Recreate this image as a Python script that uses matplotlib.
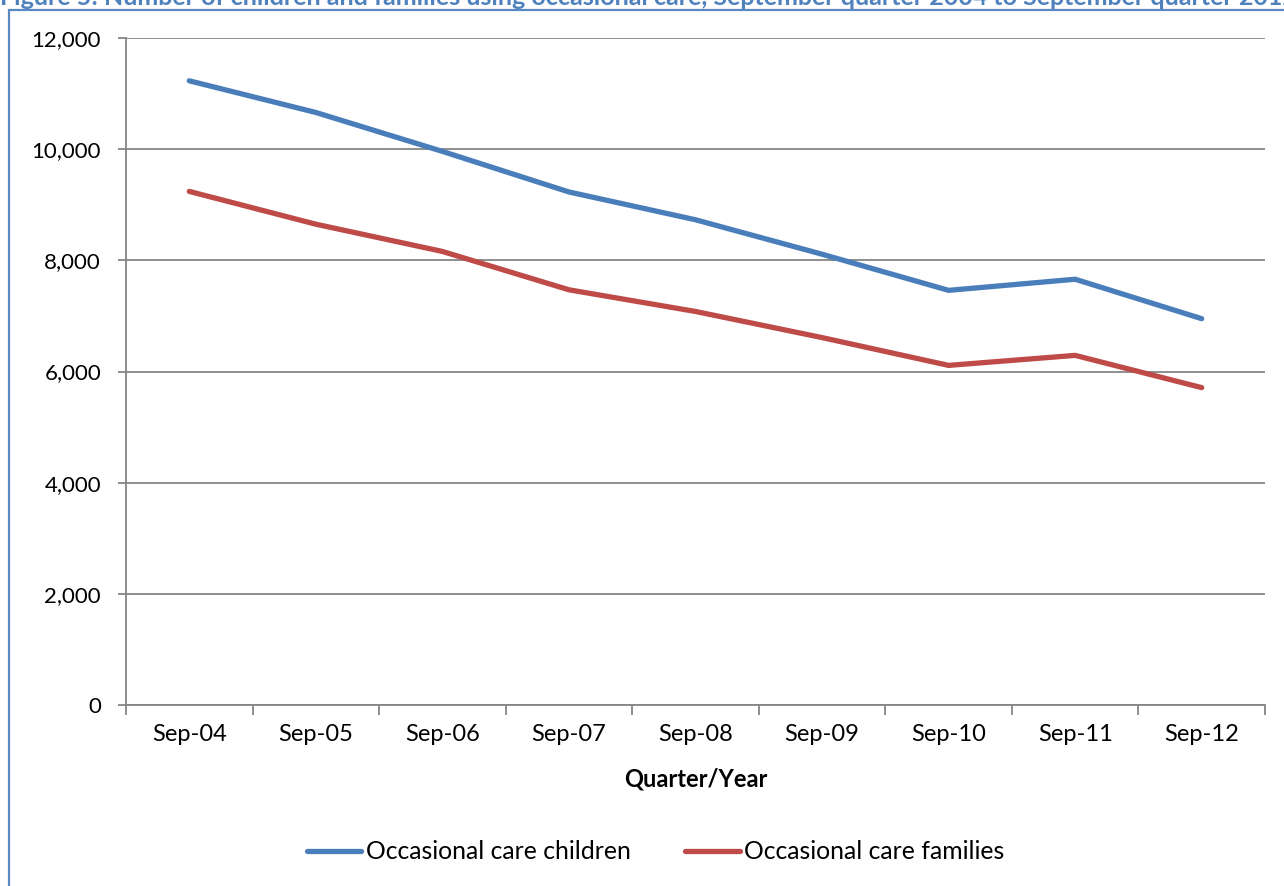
import matplotlib.pyplot as plt
from matplotlib.patches import Rectangle
from matplotlib.ticker import FuncFormatter

quarters = ['Sep-04', 'Sep-05', 'Sep-06', 'Sep-07', 'Sep-08',
            'Sep-09', 'Sep-10', 'Sep-11', 'Sep-12']
children = [11230, 10660, 9960, 9230, 8730, 8110, 7460, 7660, 6950]
families = [9240, 8650, 8160, 7470, 7080, 6610, 6110, 6290, 5710]

plt.rcParams['font.family'] = ['Lato', 'DejaVu Sans']
FS = 17

W, H = 1284, 886
fig = plt.figure(figsize=(W / 100, H / 100), dpi=100)
ax = fig.add_axes([126 / W, 1 - 705 / H, (1265 - 126) / W, (705 - 38) / H])

# frame around the chart, running off the right and bottom edges
fig.patches.append(Rectangle((9 / W, -0.05), 1.1, 1 - 10 / H + 0.05,
                             transform=fig.transFigure, fill=False,
                             edgecolor='#5B89C4', linewidth=1.6))

fig.text(0.0, 1.0 - 5 / H, 'Figure 5: Number of children and families using occasional care, '
         'September quarter 2004 to September quarter 2012',
         ha='left', va='baseline', fontsize=18, fontweight='bold', color='#4F81BD')

x = range(len(quarters))
ax.plot(x, children, color='#4A7EBB', linewidth=3.8, solid_capstyle='round',
        label='Occasional care children')
ax.plot(x, families, color='#BE4B48', linewidth=3.8, solid_capstyle='round',
        label='Occasional care families')

ax.set_xlim(-0.5, len(quarters) - 0.5)
ax.set_ylim(0, 12000)
ax.set_yticks(range(0, 12001, 2000))
ax.yaxis.set_major_formatter(FuncFormatter(lambda v, p: f'{int(v):,}'))
ax.set_xticks(list(x))
ax.set_xticklabels(quarters)
ax.set_xticks([i - 0.5 for i in range(len(quarters) + 1)], minor=True)
ax.tick_params(axis='x', which='major', length=0, pad=14, labelsize=FS)
ax.tick_params(axis='x', which='minor', length=7, color='#868686', width=1.3)
ax.tick_params(axis='y', length=6, color='#868686', width=1.3, pad=12, labelsize=16)

ax.grid(axis='y', color='#868686', linewidth=1.3)
ax.set_axisbelow(True)
for s in ['top', 'right']:
    ax.spines[s].set_visible(False)
for s in ['left', 'bottom']:
    ax.spines[s].set_color('#868686')
    ax.spines[s].set_linewidth(1.3)

ax.set_xlabel('Quarter/Year', fontsize=FS, fontweight='bold', labelpad=16)

ax.legend(loc='center', bbox_to_anchor=(0.465, -0.22), ncol=2, frameon=False,
          fontsize=17.8, handlelength=2.2, handletextpad=0.2, columnspacing=2.2)

fig.savefig('out.png', dpi=100)
